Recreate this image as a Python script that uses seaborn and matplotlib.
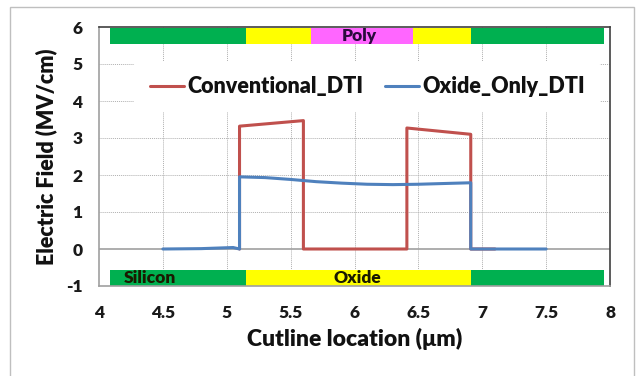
import matplotlib
matplotlib.use("Agg")
import matplotlib.pyplot as plt
import seaborn as sns
import pandas as pd
from matplotlib.patches import Rectangle

sns.set_style("white")
plt.rcParams['font.family'] = ['Lato', 'DejaVu Sans']
plt.rcParams['axes.unicode_minus'] = False

# Data
conv_x = [5.10, 5.10, 5.60, 5.60, 6.41, 6.41, 6.91, 6.91, 7.10]
conv_y = [0.00, 3.32, 3.47, 0.00, 0.00, 3.27, 3.10, 0.00, 0.00]
oxide_x = [4.50, 4.80, 5.05, 5.10, 5.10, 5.30, 5.50, 5.70, 5.90, 6.10, 6.30, 6.50, 6.70, 6.91, 6.91, 7.50]
oxide_y = [0.00, 0.01, 0.04, 0.00, 1.95, 1.93, 1.88, 1.82, 1.78, 1.75, 1.74, 1.75, 1.77, 1.79, 0.00, 0.00]

top_starts = [4.09, 5.15, 5.66, 6.46, 6.91]
top_ends = [5.15, 5.66, 6.46, 6.91, 7.955]
top_colors = ['#00B050', '#FFFF00', '#FF66FF', '#FFFF00', '#00B050']
bot_starts = [4.09, 5.15, 6.91]
bot_ends = [5.15, 6.91, 7.955]
bot_colors = ['#00B050', '#FFFF00', '#00B050']
region_labels = ['Poly', 'Silicon', 'Oxide']
region_label_x = [6.04, 4.40, 6.02]
region_label_y = [5.75, -0.78, -0.78]

xticks = [4, 4.5, 5, 5.5, 6, 6.5, 7, 7.5, 8]
yticks = [-1, 0, 1, 2, 3, 4, 5, 6]

red = '#C0504D'
blue = '#4F81BD'

fig = plt.figure(figsize=(6.37, 3.76), dpi=100)
fig.patches.append(Rectangle((10/637, -0.1), (634-10)/637, 1.1 - 7/376,
                             transform=fig.transFigure, fill=False,
                             edgecolor='#BFBFBF', linewidth=1.0))
ax = fig.add_axes([99/637, 90/376, 511/637, 259/376])

# grid
for xv in xticks[1:-1]:
    ax.axvline(xv, color='#B0B0B0', linestyle=(0, (1, 1)), linewidth=0.7, zorder=0)
for yv in yticks[2:-1]:
    ax.axhline(yv, color='#B0B0B0', linestyle=(0, (1, 1)), linewidth=0.7, zorder=0)
ax.axhline(0, color='#A0A0A0', linewidth=1.2, zorder=0.5)

# region bars
ax.barh([5.755] * len(top_starts), [e - s for s, e in zip(top_starts, top_ends)],
        left=top_starts, height=0.45, color=top_colors, zorder=2, linewidth=0)
ax.barh([-0.795] * len(bot_starts), [e - s for s, e in zip(bot_starts, bot_ends)],
        left=bot_starts, height=0.47, color=bot_colors, zorder=2, linewidth=0)
for lab, lx, ly in zip(region_labels, region_label_x, region_label_y):
    c = '#2B0A3D' if lab == 'Poly' else '#1A1A00'
    ax.text(lx, ly, lab, ha='center', va='center', fontsize=12.5, fontweight='heavy',
            color=c, zorder=3)

df_c = pd.DataFrame({'x': conv_x, 'y': conv_y})
df_o = pd.DataFrame({'x': oxide_x, 'y': oxide_y})
sns.lineplot(data=df_c, x='x', y='y', sort=False, estimator=None, color=red,
             linewidth=2.2, ax=ax, label='Conventional_DTI', zorder=4)
sns.lineplot(data=df_o, x='x', y='y', sort=False, estimator=None, color=blue,
             linewidth=2.2, ax=ax, label='Oxide_Only_DTI', zorder=5)

ax.set_xlim(4, 8)
ax.set_ylim(-1, 6)
ax.set_xticks(xticks)
ax.set_xticklabels(['4', '4.5', '5', '5.5', '6', '6.5', '7', '7.5', '8'])
ax.set_yticks(yticks)
ax.set_yticklabels(['-1', '0', '1', '2', '3', '4', '5', '6'])
ax.tick_params(axis='both', length=0, labelsize=12.5, labelcolor='#1a1a1a')
ax.tick_params(axis='x', pad=14)
ax.tick_params(axis='y', pad=12)
for t in ax.get_xticklabels() + ax.get_yticklabels():
    t.set_fontweight('heavy')

ax.set_xlabel('Cutline location (μm)', fontsize=16.5, fontweight='heavy', labelpad=5,
              color='#111111')
ax.set_ylabel('Electric Field (MV/cm)', fontsize=15.5, fontweight='heavy', labelpad=6,
              color='#111111')

ax.spines['left'].set_color('#A0A0A0')
ax.spines['bottom'].set_color('#A0A0A0')
ax.spines['top'].set_color('#404040')
ax.spines['right'].set_color('#404040')
for s in ax.spines.values():
    s.set_linewidth(1.2)

leg = ax.legend(loc='center', bbox_to_anchor=(0.525, 0.77), ncol=2, frameon=True,
                prop={'family': ['Lato', 'DejaVu Sans'], 'weight': 'heavy', 'size': 15.5},
                handlelength=1.6, handletextpad=0.15,
                columnspacing=1.0, borderaxespad=0, borderpad=0.7)
leg.get_frame().set_facecolor('white')
leg.get_frame().set_edgecolor('none')
leg.get_frame().set_alpha(1)
leg.set_zorder(6)
for t in leg.get_texts():
    t.set_color('#111111')

fig.savefig('out.png', dpi=100)
